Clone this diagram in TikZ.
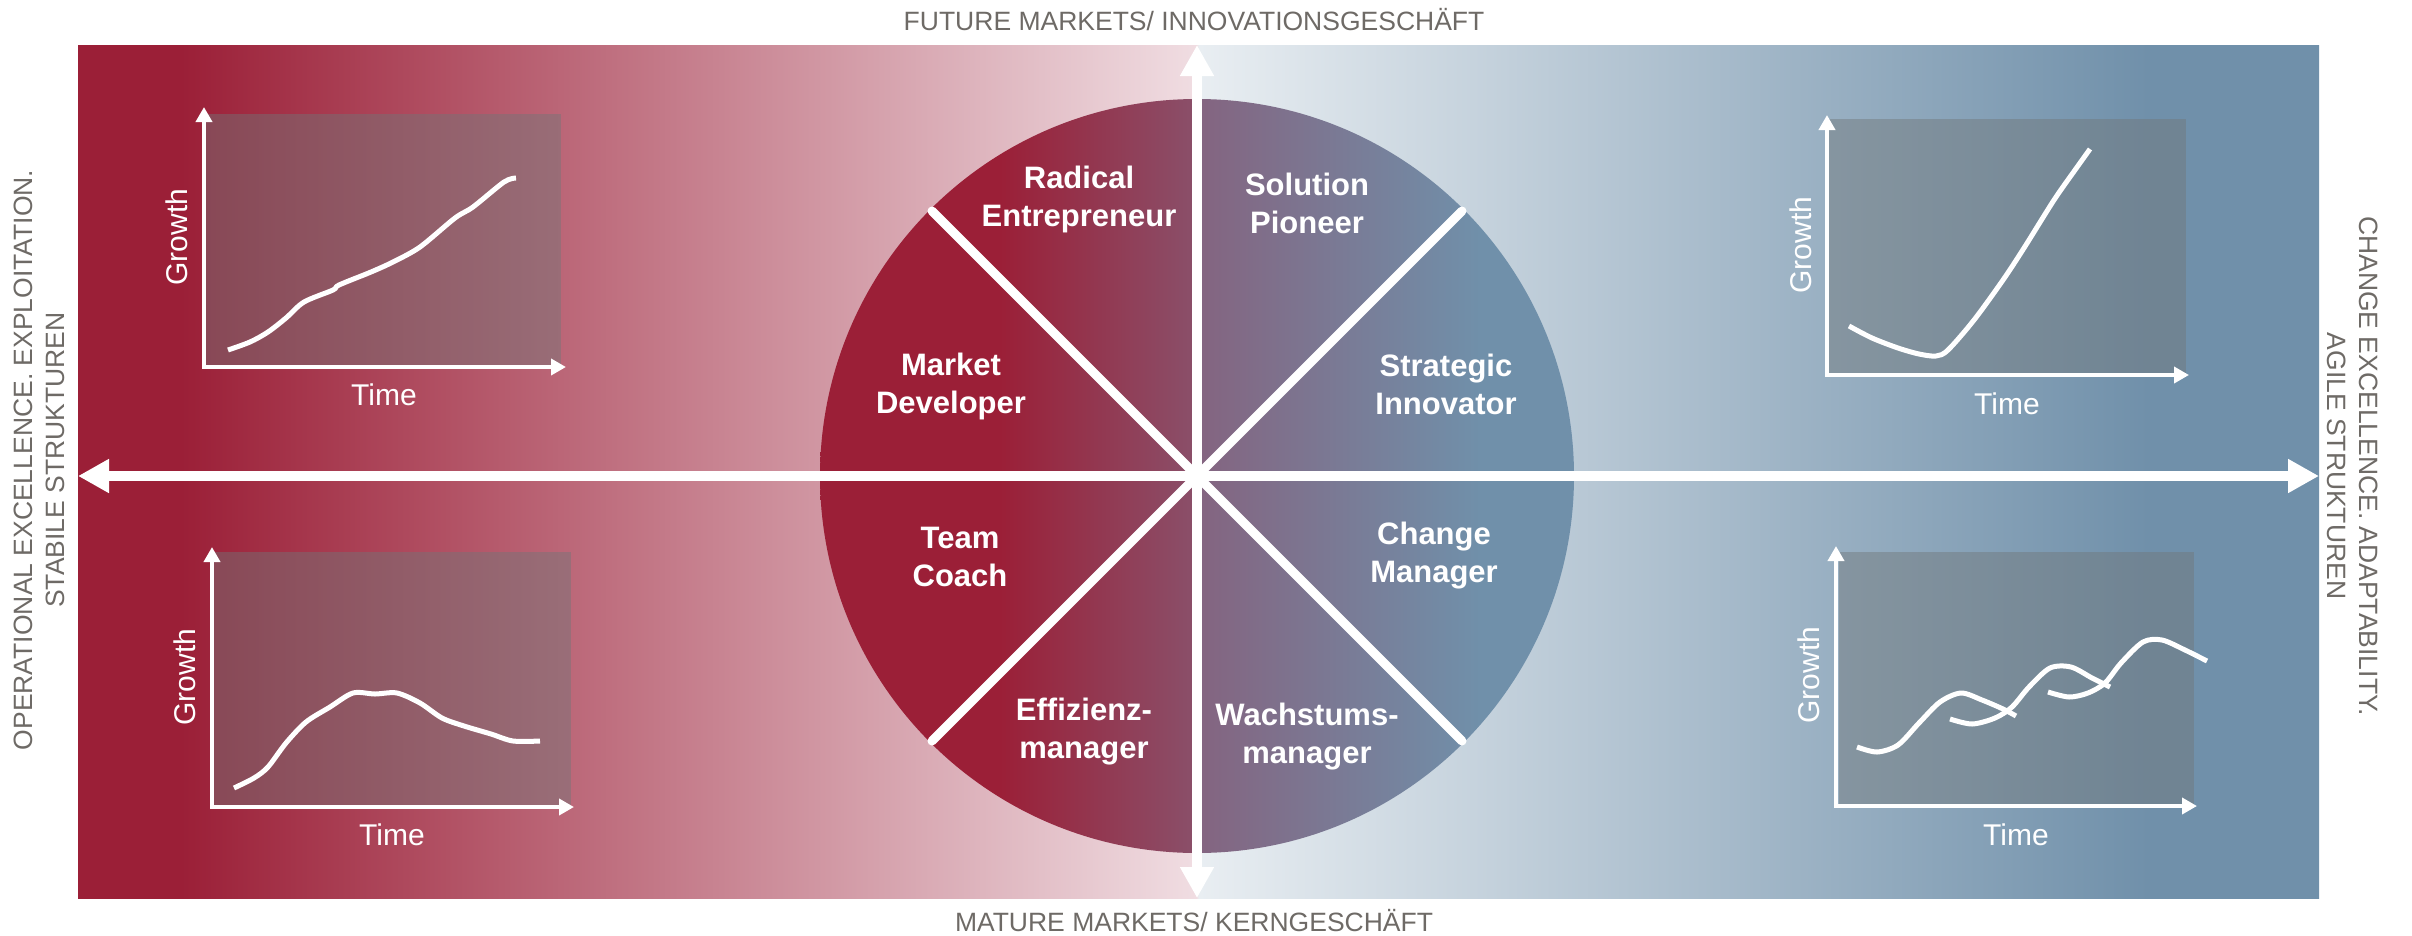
\documentclass[tikz,border=0pt]{standalone}
\usepackage{fontspec}
\setmainfont{Liberation Sans}
\usetikzlibrary{arrows.meta, positioning}
\definecolor{crimson}{RGB}{155, 31, 55}
\definecolor{blushwhite}{RGB}{240, 221, 226}
\definecolor{mistwhite}{RGB}{233, 238, 242}
\definecolor{steelblue}{RGB}{112, 144, 170}
\definecolor{mauve}{RGB}{138, 80, 106}
\definecolor{dusk}{RGB}{132, 100, 128}
\definecolor{labelgray}{RGB}{110, 106, 102}
\definecolor{panelgray}{RGB}{112, 118, 120}
\pgfdeclarehorizontalshading{backdrop}{100bp}{color(0bp)=(crimson); color(27.3bp)=(crimson); color(49.95bp)=(blushwhite); color(50bp)=(mistwhite); color(71.2bp)=(steelblue); color(100bp)=(steelblue)}
\pgfdeclarehorizontalshading{rolefill}{100bp}{color(0bp)=(crimson); color(36.9bp)=(crimson); color(49.95bp)=(mauve); color(50.05bp)=(dusk); color(68.8bp)=(steelblue); color(100bp)=(steelblue)}

\begin{document}
\begin{tikzpicture}[
    x=1pt, y=-1pt,
    mainaxis/.style={white, line width=10pt, {Triangle[length=31pt, width=32pt]}-{Triangle[length=31pt, width=32pt]}},
    divider/.style={white, line width=9pt, line cap=round},
    chartaxis/.style={white, line width=4.5pt, {Triangle[length=15pt, width=16pt]}-{Triangle[length=15pt, width=16pt]}},
    panel/.style={fill=panelgray, fill opacity=0.45},
    curve/.style={white, line width=5pt, line join=round},
    role/.style={text=white, font=\bfseries\fontsize{31}{38}\selectfont, align=center},
    axislabel/.style={text=white, font=\fontsize{30}{36}\selectfont},
    edgelabel/.style={text=labelgray, font=\fontsize{26.5}{32}\selectfont, align=center}
]
\useasboundingbox (0,0) rectangle (2412,935);

% Background
\shade[shading=backdrop] (78,45) rectangle (2319,898);

% Role circle
\coordinate (hub) at (1197,476);
\shade[shading=rolefill] (hub) circle[radius=377pt];

% Dividers
\coordinate (nw) at (932,211);
\coordinate (se) at (1462,741);
\coordinate (ne) at (1462,211);
\coordinate (sw) at (932,741);
\draw[divider] (nw) -- (se);
\draw[divider] (ne) -- (sw);

% Axes
\coordinate (north) at (1197,45);
\coordinate (south) at (1197,898);
\coordinate (west) at (78,476);
\coordinate (east) at (2319,476);
\draw[mainaxis] (west) -- (east);
\draw[mainaxis] (south) -- (north);

% Roles
\node[role] (radical) at (1079,199) {Radical\\Entrepreneur};
\node[role] (solution) at (1307,203) {Solution\\Pioneer};
\node[role] (market) at (951,386) {Market\\Developer};
\node[role] (strategic) at (1446,384) {Strategic\\Innovator};
\node[role] (team) at (960,557) {Team\\Coach};
\node[role] (changemgr) at (1434,556) {Change\\Manager};
\node[role] (effizienz) at (1084,732) {Effizienz-\\manager};
\node[role] (wachstum) at (1307,737) {Wachstums-\\manager};

% Chart top left
\fill[panel] (205,114) rectangle (561,367);
\coordinate (tl-o) at (204,367);
\coordinate (tl-y) at (204,107);
\coordinate (tl-x) at (566,367);
\draw[chartaxis] (tl-y) -- (tl-o) -- (tl-x);
\node[axislabel, rotate=90] (tl-growth) at (177,237) {Growth};
\node[axislabel] (tl-time) at (384,395) {Time};
\draw[curve] plot[smooth] coordinates {(228,350) (250,342) (268,332) (286,318) (304,302) (333,290) (339,285) (371,272) (393,262) (420,247) (455,218) (473,207) (504,182) (516,178)};

% Chart bottom left
\fill[panel] (214,552) rectangle (571,805);
\coordinate (bl-o) at (212,807);
\coordinate (bl-y) at (212,547);
\coordinate (bl-x) at (574,807);
\draw[chartaxis] (bl-y) -- (bl-o) -- (bl-x);
\node[axislabel, rotate=90] (bl-growth) at (185,677) {Growth};
\node[axislabel] (bl-time) at (392,835) {Time};
\draw[curve] plot[smooth] coordinates {(234,788) (254,778) (268,767) (286,743) (306,722) (330,707) (353,693) (375,694) (397,693) (420,703) (442,718) (464,726) (491,734) (513,741) (540,741)};

% Chart top right
\fill[panel] (1828,119) rectangle (2186,375);
\coordinate (tr-o) at (1827,375);
\coordinate (tr-y) at (1827,115);
\coordinate (tr-x) at (2189,375);
\draw[chartaxis] (tr-y) -- (tr-o) -- (tr-x);
\node[axislabel, rotate=90] (tr-growth) at (1801,245) {Growth};
\node[axislabel] (tr-time) at (2007,404) {Time};
\draw[curve] plot[smooth] coordinates {(1849,326) (1872,338) (1898,348) (1919,354) (1936,356) (1948,350) (1974,320) (2003,280) (2024,248) (2054,200) (2075,170) (2090,149)};

% Chart bottom right
\fill[panel] (1839,552) rectangle (2194,804);
\coordinate (br-o) at (1836,806);
\coordinate (br-y) at (1836,546);
\coordinate (br-x) at (2197,806);
\draw[chartaxis] (br-y) -- (br-o) -- (br-x);
\node[axislabel, rotate=90] (br-growth) at (1809,675) {Growth};
\node[axislabel] (br-time) at (2016,835) {Time};
\draw[curve] plot[smooth] coordinates {(1857,747) (1877,752) (1898,745) (1919,723) (1940,702) (1961,693) (1982,700) (2003,709) (2016,716)};
\draw[curve] plot[smooth] coordinates {(1950,719) (1972,724) (1995,718) (2012,707) (2029,687) (2050,668) (2071,667) (2092,678) (2110,687)};
\draw[curve] plot[smooth] coordinates {(2048,692) (2069,697) (2088,693) (2105,683) (2121,663) (2143,642) (2162,640) (2185,650) (2207,661)};

% Edge labels
\node[edgelabel, anchor=base] (future) at (1194,30) {FUTURE MARKETS/ INNOVATIONSGESCHÄFT};
\node[edgelabel, anchor=base] (mature) at (1194,931) {MATURE MARKETS/ KERNGESCHÄFT};
\node[edgelabel, rotate=90] (operational) at (39,460) {OPERATIONAL EXCELLENCE. EXPLOITATION.\\STABILE STRUKTUREN};
\node[edgelabel, rotate=-90] (changeexc) at (2353,466) {CHANGE EXCELLENCE. ADAPTABILITY.\\AGILE STRUKTUREN};

\end{tikzpicture}
\end{document}
